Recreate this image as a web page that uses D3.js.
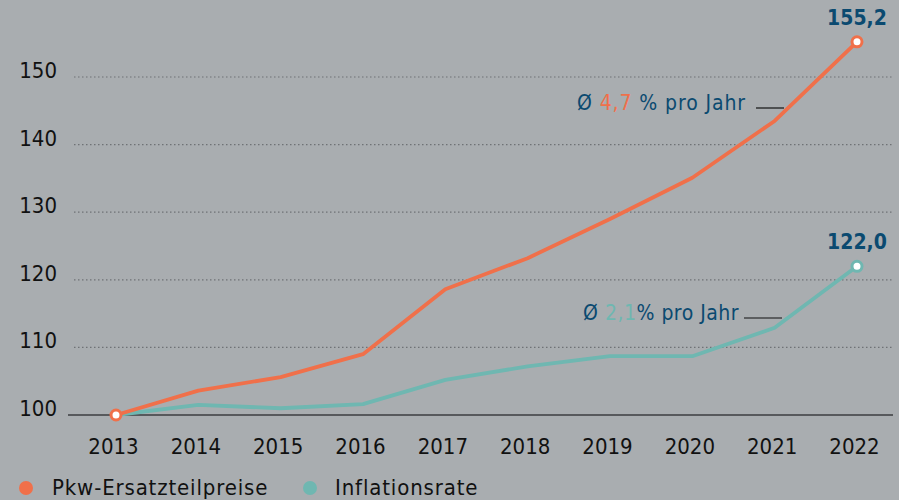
<!DOCTYPE html>
<html>
<head>
<meta charset="utf-8">
<script src="https://cdn.jsdelivr.net/npm/d3@7"></script>
<style>
  body { margin: 0; background: #a9adb0; }
  svg { display: block; font-family: "DejaVu Sans Condensed", "DejaVu Sans", sans-serif; }
</style>
</head>
<body>
<div id="my_dataviz"></div>
<script>
const years = [2013, 2014, 2015, 2016, 2017, 2018, 2019, 2020, 2021, 2022];
const ersatzteile = [100, 103.6, 105.6, 109.0, 118.6, 123.2, 129.0, 135.1, 143.5, 155.2];
const inflation = [100, 101.5, 101.0, 101.6, 105.2, 107.2, 108.7, 108.7, 112.9, 122.0];
const yTicks = [100, 110, 120, 130, 140, 150];
const seriesNames = ["Pkw-Ersatzteilpreise", "Inflationsrate"];
const avgRates = ["4,7", "2,1"];
const endLabels = ["155,2", "122,0"];

const width = 899, height = 500;
const orange = "#f0704a", teal = "#6fb7b1", navy = "#0b4a70";
const font = "'DejaVu Sans Condensed', 'DejaVu Sans', sans-serif";

const svg = d3.select("#my_dataviz").append("svg")
  .attr("width", width).attr("height", height);

const x = d3.scalePoint().domain(years).range([116, 857]);
const y = d3.scaleLinear().domain([100, 150]).range([415, 77]);

// grid lines
svg.append("g").selectAll("line")
  .data(yTicks.filter(d => d > 100))
  .join("line")
  .attr("x1", 74).attr("x2", 893)
  .attr("y1", d => y(d)).attr("y2", d => y(d))
  .attr("stroke", "#6f7275").attr("stroke-width", 1.2)
  .attr("stroke-dasharray", "1.5,2.5");

// baseline
svg.append("line")
  .attr("x1", 68).attr("x2", 893)
  .attr("y1", y(100)).attr("y2", y(100))
  .attr("stroke", "#3c3e40").attr("stroke-width", 1.3);

// y labels
svg.append("g").selectAll("text")
  .data(yTicks).join("text")
  .attr("x", 57).attr("y", d => y(d) + 1)
  .attr("text-anchor", "end")
  .attr("font-size", 22).attr("fill", "#111")
  .text(d => d);

// x labels
const xAxis = d3.axisBottom(x).tickSize(0).tickPadding(0);
const gx = svg.append("g").attr("transform", "translate(-3,454)").call(xAxis);
gx.select(".domain").remove();
gx.selectAll("text")
  .attr("font-size", 22).attr("fill", "#111")
  .attr("dy", 0)
  .style("font-family", font);

const line = d3.line().x((d, i) => x(years[i])).y(d => y(d));

[[inflation, teal], [ersatzteile, orange]].forEach(([vals, col]) => {
  svg.append("path").datum(vals)
    .attr("fill", "none").attr("stroke", col)
    .attr("stroke-width", 3.8).attr("stroke-linejoin", "round")
    .attr("d", line);
});

// endpoint markers
svg.append("circle").attr("cx", x(2013)).attr("cy", y(100)).attr("r", 5)
  .attr("fill", "#fff").attr("stroke", orange).attr("stroke-width", 3);
[[ersatzteile, orange], [inflation, teal]].forEach(([vals, col]) => {
  svg.append("circle").attr("cx", x(2022)).attr("cy", y(vals[vals.length - 1])).attr("r", 5)
    .attr("fill", "#fff").attr("stroke", col).attr("stroke-width", 3);
});

// end value labels
[ersatzteile, inflation].forEach((vals, i) => {
  svg.append("text")
    .attr("x", x(2022)).attr("y", y(vals[vals.length - 1]) - 17)
    .attr("text-anchor", "middle")
    .attr("font-size", 21).attr("font-weight", "bold").attr("fill", navy)
    .text(endLabels[i]);
});

// average annotations
const notes = [
  { x: 577, y: 110, rate: avgRates[0], col: orange, sep: " ", ls: 0.9, ul: [756, 784] },
  { x: 583, y: 320, rate: avgRates[1], col: teal, sep: "", ls: 0.5, ul: [744, 782] }
];
notes.forEach(n => {
  const t = svg.append("text").attr("x", n.x).attr("y", n.y)
    .attr("font-size", 21).attr("fill", navy).attr("letter-spacing", n.ls);
  t.append("tspan").text("Ø ");
  t.append("tspan").attr("fill", n.col).text(n.rate);
  t.append("tspan").text(n.sep + "% pro Jahr");
  svg.append("line").attr("x1", n.ul[0]).attr("x2", n.ul[1])
    .attr("y1", n.y - 2).attr("y2", n.y - 2)
    .attr("stroke", "#111").attr("stroke-width", 1.2);
});

// legend
const legend = svg.append("g");
[[26, 52, orange], [310, 335, teal]].forEach(([cx, tx, col], i) => {
  legend.append("circle").attr("cx", cx).attr("cy", 488).attr("r", 7).attr("fill", col);
  legend.append("text").attr("x", tx).attr("y", 495)
    .attr("font-size", 22).attr("fill", "#111").attr("letter-spacing", 0.85)
    .text(seriesNames[i]);
});
</script>
</body>
</html>
